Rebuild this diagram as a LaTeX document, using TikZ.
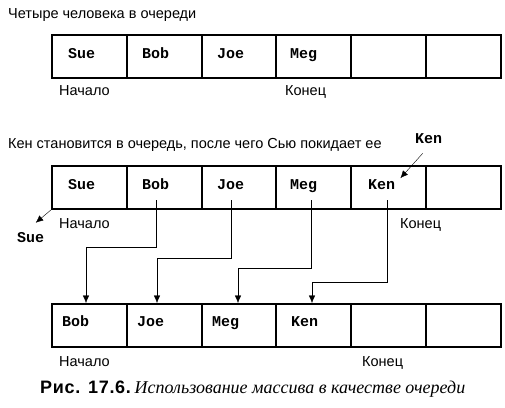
\documentclass[tikz,border=0pt]{standalone}
\usepackage{fontspec}
\setmainfont{Liberation Sans}
\setmonofont{Liberation Mono}
\newfontfamily\capserif{Liberation Serif}
\usetikzlibrary{arrows.meta}

\begin{document}
\begin{tikzpicture}[x=1pt,y=-1pt,
        cell/.style={draw, line width=1.9pt, minimum width=74.8pt, minimum height=43pt, inner sep=0pt, anchor=north west},
        person/.style={font=\ttfamily\bfseries\fontsize{15}{16}\selectfont, anchor=base west, inner sep=0pt},
        note/.style={font=\fontsize{14.5}{16}\selectfont, anchor=base west, inner sep=0pt},
        conn/.style={thin, ->, >={Latex[length=7.5pt,width=6.5pt]}}]
        \useasboundingbox (0,0) rectangle (505,407);

        % three rows of six cells
        \foreach \r/\y in {a/34,b/165,c/303} {
            \foreach \i in {1,...,6} {
                \node[cell] (\r\i) at ({51+(\i-1)*74.8},\y) {};
            }
        }

        % first row
        \node[note] (ta) at (8,18) {Четыре человека в очереди};
        \foreach \n/\x in {Sue/68,Bob/142,Joe/217,Meg/290} {
            \node[person] (a\n) at (\x,58) {\n};
        }
        \node[note] (aHead) at (59,95) {Начало};
        \node[note] (aTail) at (285,95) {Конец};

        % second row
        \node[note] (tb) at (8,148) {Кен становится в очередь, после чего Сью покидает ее};
        \foreach \n/\x in {Sue/68,Bob/142,Joe/217,Meg/290,Ken/368} {
            \node[person] (b\n) at (\x,189) {\n};
        }
        \node[person] (newKen) at (415,143) {Ken};
        \node[person] (outSue) at (17,242) {Sue};
        \node[note] (bHead) at (59,228) {Начало};
        \node[note] (bTail) at (400,228) {Конец};
        \draw[conn] ([shift={(-6pt,-10pt)}]newKen.south) -- ([shift={(5pt,6pt)}]bKen.east);
        \draw[conn] (b1.south west) -- ([shift={(5pt,9pt)}]outSue.north);

        % third row
        \foreach \n/\x in {Bob/62,Joe/137,Meg/212,Ken/291} {
            \node[person] (c\n) at (\x,326) {\n};
        }
        \node[note] (cHead) at (59,366) {Начало};
        \node[note] (cTail) at (362,366) {Конец};

        % moves
        \draw[conn] ([yshift=-11pt]bBob.base) |- (86,247) -- (86,0 |- c1.north);
        \draw[conn] ([yshift=-11pt]bJoe.base) |- (157,258) -- (157,0 |- c2.north);
        \draw[conn] ([shift={(7pt,-11pt)}]bMeg.base) |- (238,268) -- (238,0 |- c3.north);
        \draw[conn] ([shift={(5pt,-11pt)}]bKen.base) |- (312,282) -- (312,0 |- c4.north);

        \node[anchor=base west, inner sep=0pt] (cap) at (40,393) {{\bfseries\fontsize{18}{19}\addfontfeature{LetterSpace=4}\selectfont Рис. 17.6.} {\capserif\itshape\fontsize{18}{19}\selectfont Использование массива в качестве очереди}};
\end{tikzpicture}
\end{document}
